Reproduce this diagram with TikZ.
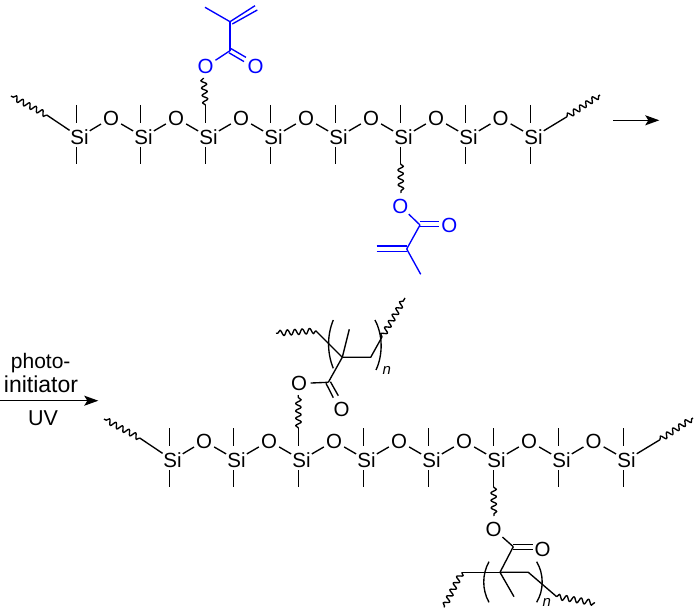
\documentclass[tikz,border=0pt]{standalone}
\usepackage{fontspec}
\setmainfont{Liberation Sans}
\usetikzlibrary{arrows.meta,decorations.pathmorphing}
\definecolor{chemblue}{RGB}{0,0,255}
\tikzset{
  bond/.style={line width=1.35pt,line cap=butt},
  blue bond/.style={bond,chemblue},
  wavy/.style={line width=1.35pt,line join=round,decorate,decoration={snake,segment length=7.4pt,amplitude=2.8pt,pre length=0pt,post length=0pt}},
  atomSi/.style={circle,inner sep=0pt,minimum size=21pt,font=\fontsize{20.5}{20.5}\selectfont},
  atomO/.style={circle,inner sep=0pt,minimum size=23pt,font=\fontsize{20.5}{20.5}\selectfont},
  atomOb/.style={atomO,text=chemblue},
  paren/.style={line width=1.35pt},
  rxn/.style={line width=1.35pt,-{Stealth[length=14pt,width=10pt,inset=3pt]}},
  label text/.style={anchor=base,inner sep=0pt,font=\fontsize{21}{21}\selectfont},
  index/.style={inner sep=0pt,font=\fontsize{15}{15}\selectfont\itshape}
}
\newcommand{\siloxane}[3]{%
\begin{scope}[shift={(#2,#3)},name prefix=#1-]
  \foreach \i/\x in {1/76.5,2/140.5,3/205.5,4/270.5,5/335.5,6/400.5,7/465.5,8/530.5}{
    \node[atomSi] (si\i) at (\x+3,137) {Si};
    \coordinate (m\i t) at (\x,105);
    \coordinate (m\i u) at (\x,123);
    \coordinate (m\i d) at (\x,147);
    \coordinate (m\i b) at (\x,164);
    \draw[bond] (m\i t) -- (m\i u);
    \draw[bond] (m\i d) -- (m\i b);
  }
  \foreach \i/\x in {1/111,2/176,3/241,4/306,5/371,6/436,7/500.5}{
    \node[atomO] (o\i) at (\x,118) {O};
  }
  \foreach \a/\b/\c in {1/1/2,2/2/3,3/3/4,4/4/5,5/5/6,6/6/7,7/7/8}{
    \draw[bond] (si\b) -- (o\a);
    \draw[bond] (o\a) -- (si\c);
  }
  \coordinate (lstart) at (46.7,115);
  \coordinate (lend) at (11,96);
  \coordinate (rstart) at (567,116.7);
  \coordinate (rend) at (600,95);
  \draw[bond] (si1) -- (lstart);
  \draw[wavy] (lstart) -- (lend);
  \draw[bond] (si8) -- (rstart);
  \draw[wavy] (rstart) -- (rend);
\end{scope}}
\begin{document}
\begin{tikzpicture}[x=1pt,y=-1pt]
\useasboundingbox (0,0) rectangle (694,615);
\siloxane{a}{0}{0}
\siloxane{b}{93}{323}

% upper blue methacrylate
\node[atomOb] (ao1) at (205.7,66.7) {O};
\node[atomOb,minimum size=20pt] (ao2) at (255.7,66.7) {O};
\coordinate (ac1) at (230,50.7);
\coordinate (ac1a) at (231,48.6);
\coordinate (ac1b) at (229,52.8);
\coordinate (ao2a) at (246,57.4);
\coordinate (ao2b) at (244,61.6);
\coordinate (ac2) at (230,21.7);
\coordinate (ac3) at (205,7.3);
\coordinate (ach2a) at (255,5.7);
\coordinate (ac2b) at (232.3,24);
\coordinate (ach2b) at (257.3,10);
\coordinate (awave1) at (203.5,78);
\draw[wavy] (a-m3t) -- (awave1);
\draw[blue bond] (ao1) -- (ac1);
\draw[blue bond] (ac1a) -- (ao2a);
\draw[blue bond] (ac1b) -- (ao2b);
\draw[blue bond] (ac1) -- (ac2);
\draw[blue bond] (ac2) -- (ac3);
\draw[blue bond] (ac2) -- (ach2a);
\draw[blue bond] (ac2b) -- (ach2b);

% lower blue methacrylate
\coordinate (awave2) at (401,193);
\draw[wavy] (a-m6b) -- (awave2);
\node[atomOb] (ao3) at (400.3,206) {O};
\node[atomOb,minimum size=20pt] (ao4) at (449.3,225.7) {O};
\coordinate (ac4) at (420,225);
\coordinate (ac4a) at (420,221.7);
\coordinate (ac4b) at (420,226.7);
\coordinate (ao4a) at (439,221.7);
\coordinate (ao4b) at (439,226.7);
\coordinate (ac5) at (406.7,249);
\coordinate (ach2c) at (376.7,246);
\coordinate (ac5c) at (406.7,246);
\coordinate (ach2d) at (376.7,251.5);
\coordinate (ac5d) at (406.7,251.5);
\coordinate (ac6) at (420.7,274.3);
\draw[blue bond] (ao3) -- (ac4);
\draw[blue bond] (ac4a) -- (ao4a);
\draw[blue bond] (ac4b) -- (ao4b);
\draw[blue bond] (ac4) -- (ac5);
\draw[blue bond] (ach2c) -- (ac5c);
\draw[blue bond] (ach2d) -- (ac5d);
\draw[blue bond] (ac5) -- (ac6);

% first arrow
\coordinate (r1s) at (613.3,120.3);
\coordinate (r1e) at (659.3,120.3);
\draw[rxn] (r1s) -- (r1e);

% second arrow and conditions
\coordinate (r2s) at (0,400.7);
\coordinate (r2e) at (98.3,400.7);
\draw[rxn] (r2s) -- (r2e);
\node[label text] (t1) at (40.7,368) {photo-};
\node[label text,font=\fontsize{23}{23}\selectfont] (t2) at (41,392.7) {initiator};
\node[label text,font=\fontsize{21.5}{21.5}\selectfont] (t3) at (43,425) {UV};

% upper polymer fragment
\coordinate (bwave1) at (298.3,395);
\draw[wavy] (b-m3t) -- (bwave1);
\node[atomO] (bo1) at (299,383.5) {O};
\node[atomO,minimum size=20pt] (bo2) at (341.7,409) {O};
\coordinate (bc1) at (328.3,382.3);
\coordinate (bc1a) at (326,383.3);
\coordinate (bc1b) at (330.4,381.7);
\coordinate (bo2a) at (333.3,397.7);
\coordinate (bo2b) at (338.3,395.7);
\coordinate (bq) at (342.3,357.3);
\coordinate (bme) at (349.3,329.3);
\coordinate (bl) at (315.7,330.7);
\coordinate (blw) at (276,333.3);
\coordinate (brc) at (370.7,357.3);
\coordinate (brs) at (382,337);
\coordinate (brw) at (405,298);
\draw[bond] (bo1) -- (bc1);
\draw[bond] (bc1a) -- (bo2a);
\draw[bond] (bc1b) -- (bo2b);
\draw[bond] (bc1) -- (bq);
\draw[bond] (bq) -- (bme);
\draw[bond] (bq) -- (bl);
\draw[wavy] (bl) -- (blw);
\draw[bond] (bq) -- (brc) -- (brs);
\draw[wavy] (brs) -- (brw);
\coordinate (pa1) at (333.3,320);
\coordinate (pa2) at (333.3,368.3);
\coordinate (pb1) at (375,320);
\coordinate (pb2) at (376,370);
\draw[paren] (pa1) .. controls (327,335) and (327,353) .. (pa2);
\draw[paren] (pb1) .. controls (383,335) and (383,355) .. (pb2);
\node[index] (n1) at (386.7,370) {n};

% lower polymer fragment
\coordinate (bwave2) at (494,516);
\draw[wavy] (b-m6b) -- (bwave2);
\node[atomO] (bo3) at (493.7,529.3) {O};
\node[atomO,minimum size=20pt] (bo4) at (542.7,549) {O};
\coordinate (bc2) at (513.3,546.7);
\coordinate (bc2a) at (513.3,544.3);
\coordinate (bc2b) at (513.3,549.3);
\coordinate (bo4a) at (532.7,544.3);
\coordinate (bo4b) at (532.7,549.3);
\coordinate (cq) at (500,572.3);
\coordinate (cme) at (514,596.7);
\coordinate (cl) at (461.7,572.3);
\coordinate (clw) at (444,607.3);
\coordinate (crc) at (528.3,572.3);
\coordinate (crs) at (556.7,596.7);
\coordinate (crw) at (595,603);
\draw[bond] (bo3) -- (bc2);
\draw[bond] (bc2a) -- (bo4a);
\draw[bond] (bc2b) -- (bo4b);
\draw[bond] (bc2) -- (cq);
\draw[bond] (cq) -- (cme);
\draw[bond] (cq) -- (cl);
\draw[wavy] (cl) -- (clw);
\draw[bond] (cq) -- (crc) -- (crs);
\draw[wavy] (crs) -- (crw);
\coordinate (pc1) at (489,561.7);
\coordinate (pc2) at (489,602.3);
\coordinate (pd1) at (536.7,561.7);
\coordinate (pd2) at (536.7,602.3);
\draw[paren] (pc1) .. controls (482,574) and (482,590) .. (pc2);
\draw[paren] (pd1) .. controls (544,574) and (544,590) .. (pd2);
\node[index] (n2) at (546.7,602) {n};
\end{tikzpicture}
\end{document}
